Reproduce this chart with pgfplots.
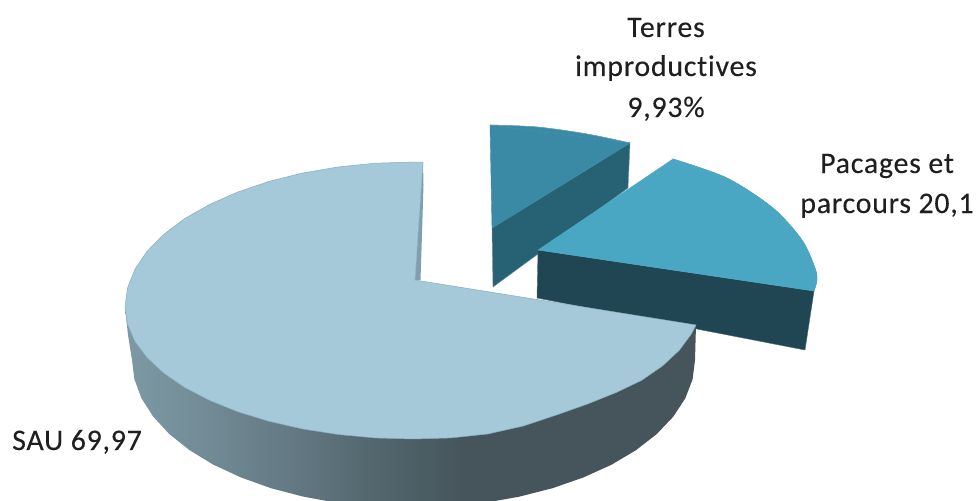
\documentclass[border=0pt]{standalone}
\usepackage{pgfplots}
\pgfplotsset{compat=1.18}
\usepackage{fontspec}
\setmainfont[Ligatures=NoCommon,LetterSpace=2.5,FakeBold=0.15]{Carlito}
\definecolor{sauTop}{HTML}{A6C9D9}
\definecolor{sauEdge}{HTML}{86AEC0}
\definecolor{pacTop}{HTML}{4AA7C4}
\definecolor{pacEdge}{HTML}{5F9DB2}
\definecolor{pacSide}{HTML}{1F4652}
\definecolor{terTop}{HTML}{3A8AA5}
\definecolor{terEdge}{HTML}{6AA6BA}
\definecolor{terSide}{HTML}{276274}
\definecolor{sauInner}{HTML}{7F9FAE}
\pgfdeclarehorizontalshading{sauband}{100bp}{
  rgb(0bp)=(0.53,0.65,0.70);
  rgb(14.5bp)=(0.53,0.65,0.70);
  rgb(21.3bp)=(0.51,0.63,0.67);
  rgb(31.6bp)=(0.45,0.55,0.59);
  rgb(42bp)=(0.37,0.45,0.49);
  rgb(46bp)=(0.33,0.41,0.44);
  rgb(54.4bp)=(0.275,0.335,0.36);
  rgb(100bp)=(0.27,0.32,0.35)
}
\begin{document}
\begin{tikzpicture}
\begin{axis}[
  scale only axis, width=976bp, height=501bp,
  xmin=0, xmax=976, ymin=0, ymax=501, y dir=reverse,
  hide axis, clip=true,
]
% Page frame
\path (axis cs:0,0) rectangle (axis cs:976,501);
% Terres improductives: wall, then top face (sector body and rim)
\addplot[fill=terSide, draw=terSide!70!white, line width=.4pt] coordinates {
  (492,228) (630,143) (628,188) (493,287)} -- cycle;
\addplot[fill=terTop, draw=terTop, line width=.4pt] coordinates {(490,125) (630,143) (492,228)} -- cycle;
\addplot[smooth, fill=terTop, draw=terTop, line width=.4pt] coordinates {
  (490,125) (537,127) (587,134) (630,143)} -- cycle;
\addplot[smooth, draw=terEdge, line width=.4pt] coordinates {
  (490,125) (537,127) (587,134) (630,143)};
% Pacages et parcours: wall, then top face
\addplot[fill=pacSide, draw=pacSide!80!white, line width=.4pt] coordinates {
  (538,250) (814,291) (805,350) (537,298)} -- cycle;
\addplot[fill=pacTop, draw=pacTop, line width=.4pt] coordinates {(538,250) (673,159) (814,291)} -- cycle;
\addplot[smooth, fill=pacTop, draw=pacTop, line width=.4pt] coordinates {
  (673,159) (727,178) (773,208) (802,240) (815,268) (817,280) (814,291)} -- cycle;
\addplot[smooth, draw=pacEdge, line width=.4pt] coordinates {
  (673,159) (727,178) (773,208) (802,240) (815,268) (817,280) (814,291)};
% SAU: outer wall
\addplot[shading=sauband, draw=none] coordinates {
  (696,325) (695,360) (692.6,379.3) (685.3,398.3) (673.3,416.6) (656.8,434) (636.1,450.1)
  (611.5,464.7) (583.5,477.4) (552.5,488.2) (519.1,496.7) (483.8,503) (447.2,506.7) (410,508)
  (373.7,506.7) (338,503) (303.6,496.7) (271,488.2) (240.8,477.4) (213.4,464.7) (189.5,450.1)
  (169.2,434) (153.2,416.6) (141.5,398.3) (134.4,379.3) (132,360) (128,335) (125,307)} -- cycle;
% SAU: inner wall seen along the cut
\addplot[fill=sauInner, draw=none] coordinates {
  (423,162) (423.5,185) (421.5,250) (420.5,280) (415,280)} -- cycle;
% SAU: top face
\addplot[fill=sauTop, draw=sauEdge, line width=.5pt] coordinates {
  (415,280) (423,162) (413,162) (375.4,163.2) (338.5,166.9) (302.8,173) (269,181.4)
  (237.7,192) (209.4,204.5) (184.5,218.7) (163.6,234.5) (146.9,251.5) (134.8,269.5)
  (127.5,288.1) (125,307) (127.5,324.2) (134.8,341.2) (146.9,357.5) (163.6,373)
  (184.5,387.4) (209.4,400.3) (237.7,411.7) (269,421.3) (302.8,429) (338.5,434.5)
  (375.4,437.9) (413,439) (450.6,437.9) (487.5,434) (523.2,426) (557,414.8)
  (588.3,403.7) (616.6,392.3) (641.5,380.4) (662.4,366) (679.1,350.5) (691.2,334.2) (696,325)} -- cycle;
% Labels
\begin{scope}[every node/.style={font=\fontsize{30}{36}\selectfont, text=black!88, inner sep=0pt, anchor=base}]
\node at (axis cs:666,37) {Terres};
\node at (axis cs:666,76) {improductives};
\node at (axis cs:666,117) {9,93\%};
\node at (axis cs:887,173) {Pacages et};
\node at (axis cs:887,213) {parcours 20,1};
\node at (axis cs:77,450) {SAU 69,97};
\end{scope}
\end{axis}
\end{tikzpicture}
\end{document}
